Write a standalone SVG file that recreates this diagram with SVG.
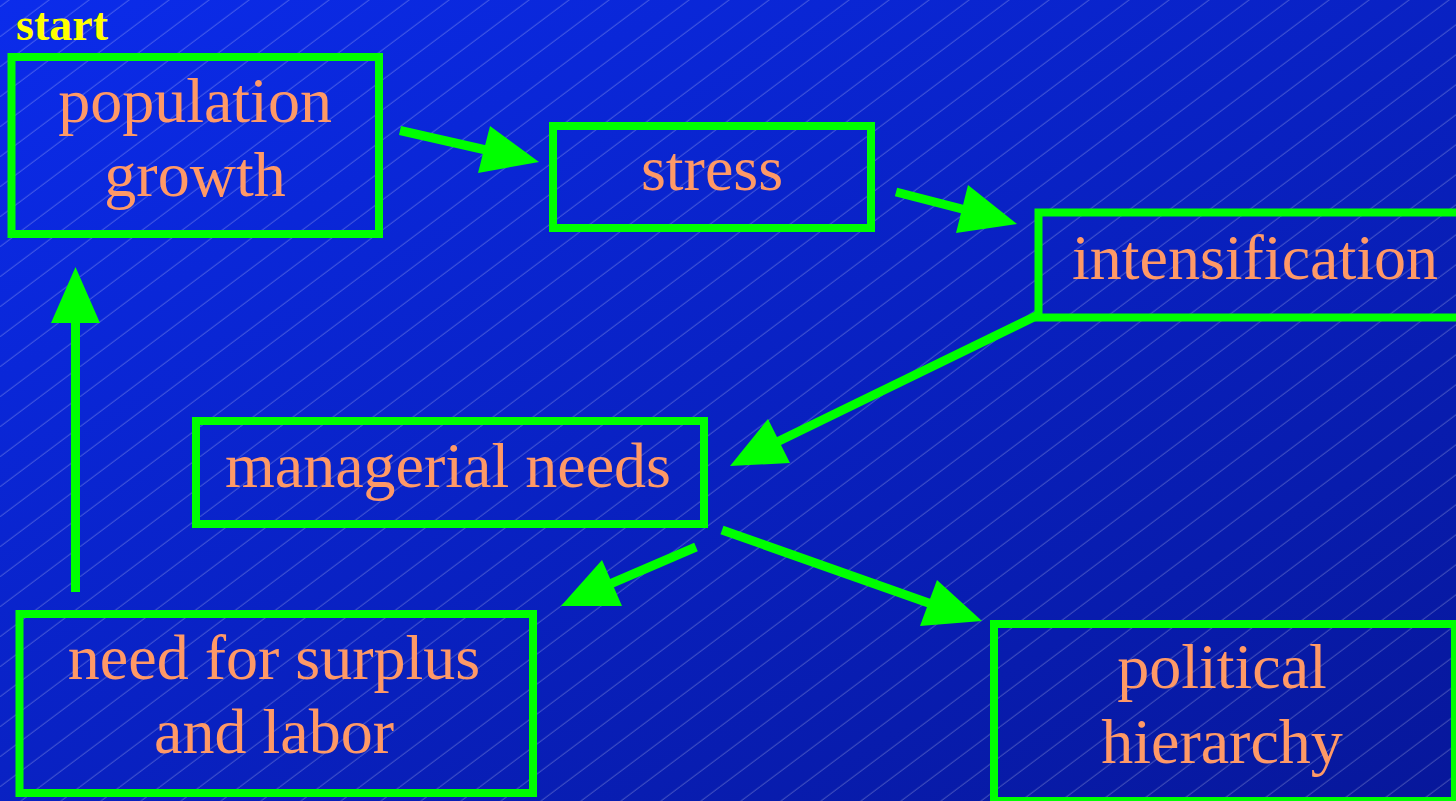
<svg xmlns="http://www.w3.org/2000/svg" width="1456" height="801" viewBox="0 0 1456 801">
  <defs>
    <linearGradient id="bg" x1="0" y1="0" x2="1" y2="1">
      <stop offset="0" stop-color="#0b2ceb"/>
      <stop offset="1" stop-color="#07179a"/>
    </linearGradient>
    <pattern id="hatch" x="0" y="6.7" width="40" height="30" patternUnits="userSpaceOnUse">
      <line x1="-4" y1="33" x2="44" y2="-3" stroke="#ffffff" stroke-opacity="0.3" stroke-width="1"/>
    </pattern>
    <style>
      .box { fill: none; stroke: #00ff00; stroke-width: 8; }
      .lbl { font-family: "Liberation Serif", "Times New Roman", serif; font-size: 64px; fill: #ff9966; text-anchor: middle; }
      .shaft { stroke: #00ff00; stroke-width: 9; fill: none; }
      .head { fill: #00ff00; }
    </style>
  </defs>
  <rect x="0" y="0" width="1456" height="801" fill="url(#bg)"/>
  <rect x="0" y="0" width="1456" height="801" fill="url(#hatch)"/>

  <text x="16" y="40" font-family="'Liberation Serif', 'Times New Roman', serif" font-size="46" font-weight="bold" fill="#ffff00">start</text>

  <g id="connectors">
    <line class="shaft" x1="400" y1="130.5" x2="486" y2="150"/>
    <polygon class="head" points="490,126 478,173 539,162"/>
    <line class="shaft" x1="896" y1="192" x2="964" y2="209.5"/>
    <polygon class="head" points="968,185 956,233 1017,224"/>
    <line class="shaft" x1="1038" y1="315" x2="777" y2="442"/>
    <polygon class="head" points="768,419 790,463 730,466"/>
    <line class="shaft" x1="696" y1="547" x2="610" y2="584"/>
    <polygon class="head" points="602,560 622,606 561,606"/>
    <line class="shaft" x1="722" y1="530" x2="930" y2="603.5"/>
    <polygon class="head" points="937,580 920,626 982,621"/>
    <line class="shaft" x1="75.5" y1="592" x2="75.5" y2="321"/>
    <polygon class="head" points="51,323 100,323 75.5,267"/>
  </g>

  <g id="population-growth">
    <rect class="box" x="11.5" y="57" width="367.5" height="177"/>
    <text class="lbl" x="195" y="122">population</text>
    <text class="lbl" x="195" y="196">growth</text>
  </g>
  <g id="stress">
    <rect class="box" x="553" y="126" width="318" height="102"/>
    <text class="lbl" x="712" y="190">stress</text>
  </g>
  <g id="intensification">
    <rect class="box" x="1038.5" y="212.5" width="430" height="105"/>
    <text class="lbl" x="1255" y="279">intensification</text>
  </g>
  <g id="managerial-needs">
    <rect class="box" x="196" y="421" width="508" height="103"/>
    <text class="lbl" x="448" y="487">managerial needs</text>
  </g>
  <g id="need-for-surplus">
    <rect class="box" x="19.5" y="614" width="513.5" height="179"/>
    <text class="lbl" x="274" y="679">need for surplus</text>
    <text class="lbl" x="274" y="753">and labor</text>
  </g>
  <g id="political-hierarchy">
    <rect class="box" x="994" y="624" width="461" height="177"/>
    <text class="lbl" x="1222" y="688">political</text>
    <text class="lbl" x="1222" y="763">hierarchy</text>
  </g>
</svg>
